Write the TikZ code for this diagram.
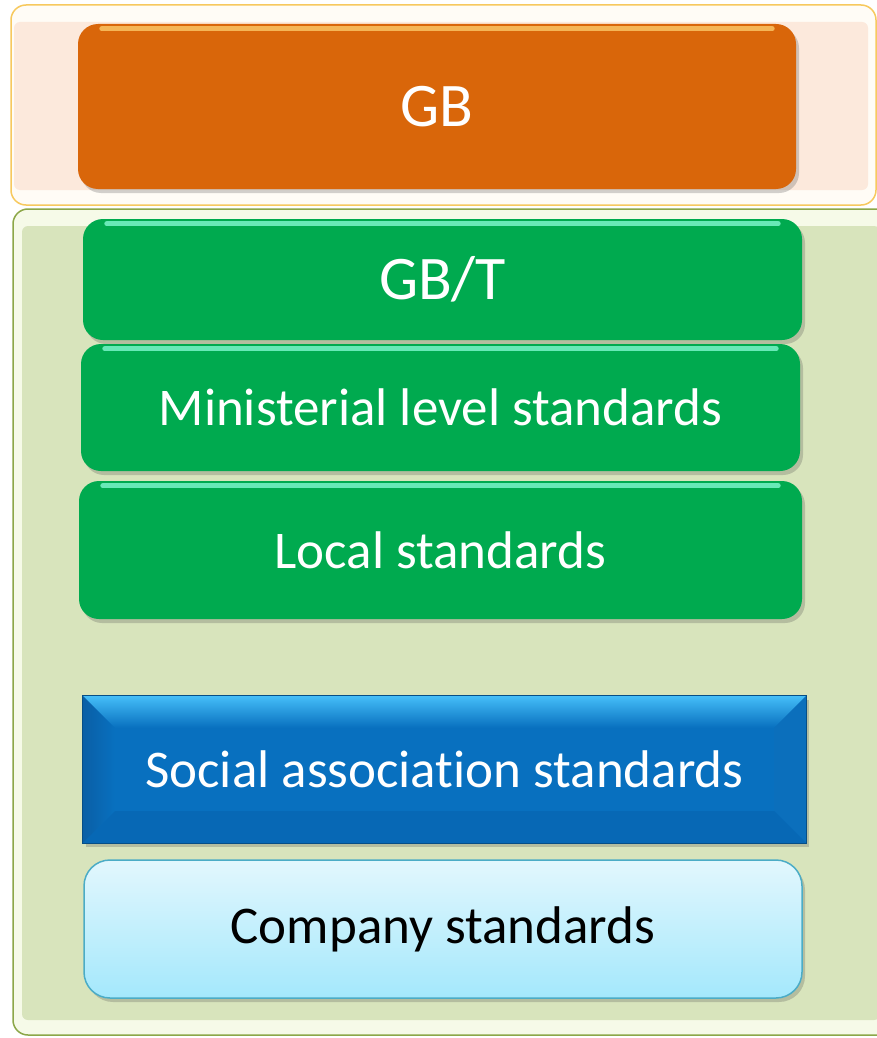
\documentclass[tikz,border=0pt]{standalone}
\usepackage{fontspec}
\setmainfont{Carlito}[Ligatures=NoCommon]
\usetikzlibrary{shadows}
\definecolor{panelOneBorder}{HTML}{F7C95E}
\definecolor{panelOneRim}{HTML}{FFFCF6}
\definecolor{panelOneFill}{HTML}{FCE9DC}
\definecolor{panelTwoBorder}{HTML}{8CA748}
\definecolor{panelTwoRim}{HTML}{F6FAE8}
\definecolor{panelTwoFill}{HTML}{D8E4BC}
\definecolor{orangeFill}{HTML}{D9660A}
\definecolor{orangeHi}{HTML}{FFD070}
\definecolor{greenFill}{HTML}{00AA4F}
\definecolor{greenHi}{HTML}{8CFFDA}
\definecolor{blueFill}{HTML}{0870BF}
\definecolor{blueTop}{HTML}{45BEF8}
\definecolor{blueLeft}{HTML}{0A5FA6}
\definecolor{blueRight}{HTML}{0B6FBC}
\definecolor{blueBottom}{HTML}{0768B5}
\definecolor{cyanTop}{HTML}{E2F7FD}
\definecolor{cyanBottom}{HTML}{A4E8FC}
\definecolor{cyanBorder}{HTML}{4BACC6}
\tikzset{
  panelbox/.style={draw, line width=1.5pt, rounded corners=15pt, inner sep=0pt},
  glossbox/.style={rounded corners=20pt, inner sep=0pt, text=white,
    font=\fontsize{53}{60}\selectfont,
    drop shadow={shadow xshift=3pt, shadow yshift=-4pt, opacity=0.25, fill=black!70}},
  bigtext/.style={font=\fontsize{62}{70}\selectfont},
  bevelbox/.style={inner sep=0pt, text=white, fill=blueFill,
    font=\fontsize{53}{60}\selectfont,
    drop shadow={shadow xshift=3pt, shadow yshift=-4pt, opacity=0.25, fill=black!70}},
  lightbox/.style={rounded corners=26pt, inner sep=0pt, text=black, draw=cyanBorder, line width=1.5pt,
    top color=cyanTop, bottom color=cyanBottom,
    font=\fontsize{53}{60}\selectfont,
    drop shadow={shadow xshift=3pt, shadow yshift=-4pt, opacity=0.25, fill=black!70}},
  hiline/.style={line width=5pt, line cap=round, opacity=0.75}
}
\begin{document}
\begin{tikzpicture}[x=1pt,y=-1pt]
\useasboundingbox (0,0) rectangle (876,1038);
\fill[white] (0,0) rectangle (876,1038);
% top panel
\node[panelbox, draw=panelOneBorder, fill=panelOneRim, minimum width=865pt, minimum height=200pt] (panelA) at (443.5,105) {};
\fill[panelOneFill, rounded corners=6pt] (14,22) rectangle (868,190);
% bottom panel
\node[panelbox, draw=panelTwoBorder, fill=panelTwoRim, minimum width=880pt, minimum height=826pt] (panelB) at (453,622) {};
\fill[panelTwoFill, rounded corners=6pt] (22,226) rectangle (880,1020);
% GB
\node[glossbox, bigtext, fill=orangeFill, minimum width=718pt, minimum height=165pt] (gb) at (437,106.5) {GB};
\draw[hiline, orangeHi] ([xshift=24pt,yshift=-5pt]gb.north west) -- ([xshift=-24pt,yshift=-5pt]gb.north east);
% green boxes
\node[glossbox, bigtext, fill=greenFill, minimum width=719pt, minimum height=121pt] (gbt) at (442.5,279.5) {GB/T};
\draw[hiline, greenHi] ([xshift=24pt,yshift=-5pt]gbt.north west) -- ([xshift=-24pt,yshift=-5pt]gbt.north east);
\node[glossbox, fill=greenFill, minimum width=719pt, minimum height=127pt] (min) at (440.5,407.5) {Ministerial level standards};
\draw[hiline, greenHi] ([xshift=24pt,yshift=-5pt]min.north west) -- ([xshift=-24pt,yshift=-5pt]min.north east);
\node[glossbox, fill=greenFill, minimum width=723pt, minimum height=138pt] (loc) at (440.5,550) {Local standards};
\draw[hiline, greenHi] ([xshift=24pt,yshift=-5pt]loc.north west) -- ([xshift=-24pt,yshift=-5pt]loc.north east);
% blue bevel box
\node[bevelbox, minimum width=723pt, minimum height=147pt] (soc) at (444.5,769.5) {};
\shade[top color=blueTop, bottom color=blueFill] (soc.north west) -- (soc.north east) -- ([xshift=-32pt,yshift=-32pt]soc.north east) -- ([xshift=32pt,yshift=-32pt]soc.north west) -- cycle;
\shade[left color=blueLeft, right color=blueFill] (soc.north west) -- ([xshift=32pt,yshift=-32pt]soc.north west) -- ([xshift=32pt,yshift=32pt]soc.south west) -- (soc.south west) -- cycle;
\fill[blueRight] (soc.north east) -- ([xshift=-32pt,yshift=-32pt]soc.north east) -- ([xshift=-32pt,yshift=32pt]soc.south east) -- (soc.south east) -- cycle;
\fill[blueBottom] (soc.south west) -- ([xshift=32pt,yshift=32pt]soc.south west) -- ([xshift=-32pt,yshift=32pt]soc.south east) -- (soc.south east) -- cycle;
\draw[blueFill!70!black, line width=0.8pt] (soc.north west) rectangle (soc.south east);
\node[text=white, font=\fontsize{53}{60}\selectfont, inner sep=0pt] (soctext) at (soc.center) {Social association standards};
% company
\node[lightbox, minimum width=718pt, minimum height=138pt] (comp) at (443,929) {Company standards};
\end{tikzpicture}
\end{document}
